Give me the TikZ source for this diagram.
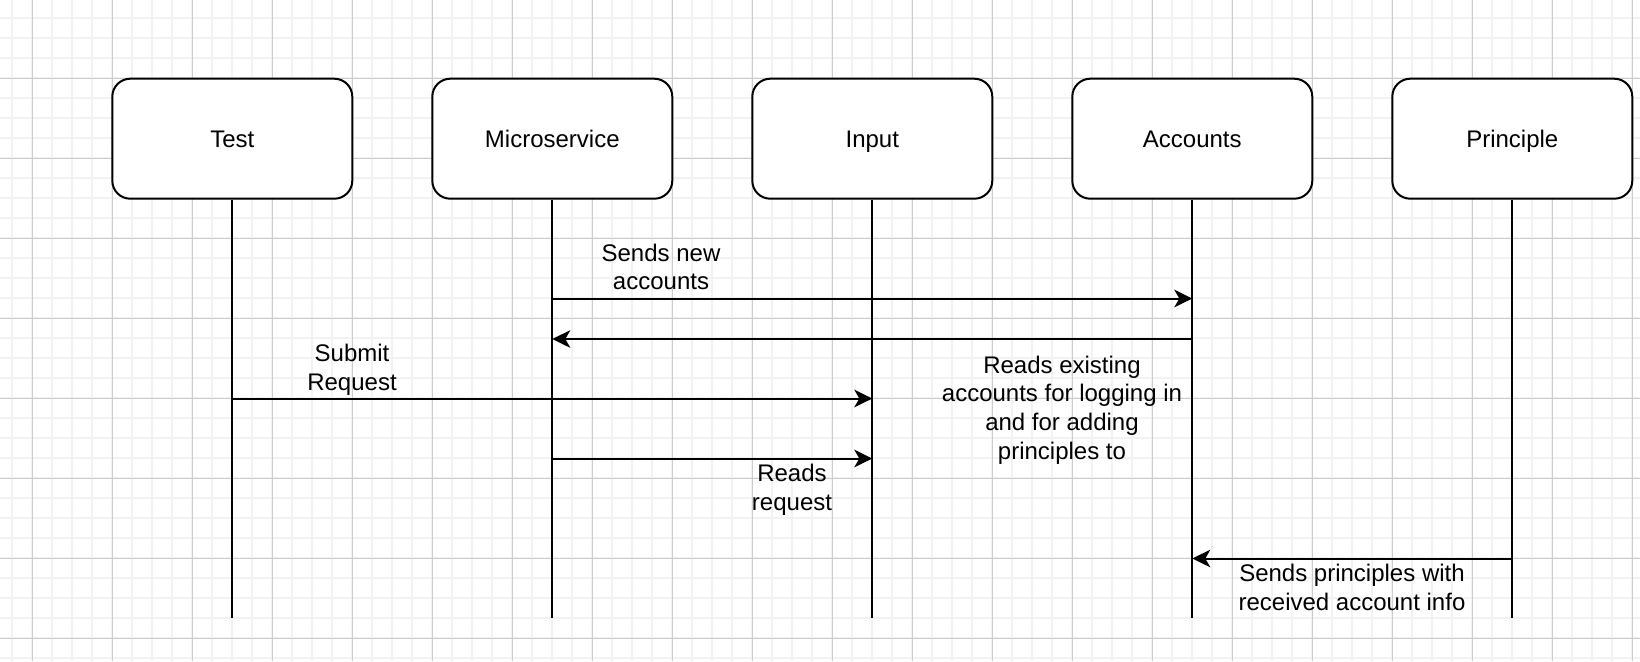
\documentclass[tikz,border=0pt]{standalone}
\usepackage{fontspec}
\setmainfont{Liberation Sans}
\usetikzlibrary{arrows.meta}
\begin{document}
\begin{tikzpicture}[x=0.5pt,y=-0.5pt,
  every node/.style={font=\fontsize{12}{14.4}\selectfont, text=black},
  actor/.style={draw=black, line width=1pt, rounded corners=9pt, fill=white,
    minimum width=120pt, minimum height=60pt, inner sep=0pt,
    text height=8.6pt, text depth=0pt},
  lifeline/.style={draw=black, line width=1pt},
  msg/.style={draw=black, line width=1pt, -{Stealth[length=9pt,width=8.8pt,inset=2.5pt]}},
  lbl/.style={align=center, inner sep=0pt},
  minorgrid/.style={draw=black!5, line width=1pt},
  majorgrid/.style={draw=black!20, line width=0.5pt}]
\useasboundingbox (0,0) rectangle (1640,661);
\fill[white] (0,0) rectangle (1640,661);
\begin{scope}
\clip (0,0) rectangle (1640,661);
\foreach \i in {0,...,81} {\draw[minorgrid] (12.3+20*\i,0) -- (12.3+20*\i,661);}
\foreach \j in {0,...,32} {\draw[minorgrid] (0,18.3+20*\j) -- (1640,18.3+20*\j);}
\foreach \i in {0,...,20} {\draw[majorgrid] (32.3+80*\i,0) -- (32.3+80*\i,661);}
\foreach \j in {0,...,7} {\draw[majorgrid] (0,78.3+80*\j) -- (1640,78.3+80*\j);}
\end{scope}

\node[actor] (test)  at (232.3,138.7) {Test};
\node[actor] (micro) at (552.3,138.7) {Microservice};
\node[actor] (input) at (872.3,138.7) {Input};
\node[actor] (acc)   at (1192.3,138.7) {Accounts};
\node[actor] (prin)  at (1512.3,138.7) {Principle};

\coordinate (bot) at (0,618.3);
\foreach \n in {test,micro,input,acc,prin} {\draw[lifeline] (\n.south) -- (\n.south |- bot);}

\coordinate (y1) at (0,298.5);
\coordinate (y2) at (0,339);
\coordinate (y3) at (0,398.5);
\coordinate (y4) at (0,458.5);
\coordinate (y5) at (0,558.5);

\draw[msg] (micro.south |- y1) -- (acc.south |- y1);
\draw[msg] (acc.south |- y2) -- (micro.south |- y2);
\draw[msg] (test.south |- y3) -- (input.south |- y3);
\draw[msg] (micro.south |- y4) -- (input.south |- y4);
\draw[msg] (prin.south |- y5) -- (acc.south |- y5);

\node[lbl] (l1) at (661,267) {Sends new\\accounts};
\node[lbl] (l2) at (1062,410) {Reads existing\\accounts for logging in\\and for adding\\principles to};
\node[lbl] (l3) at (352,370) {Submit\\Request};
\node[lbl] (l4) at (792,490) {Reads\\request};
\node[lbl] (l5) at (1352,587.5) {Sends principles with\\received account info};
\end{tikzpicture}
\end{document}
